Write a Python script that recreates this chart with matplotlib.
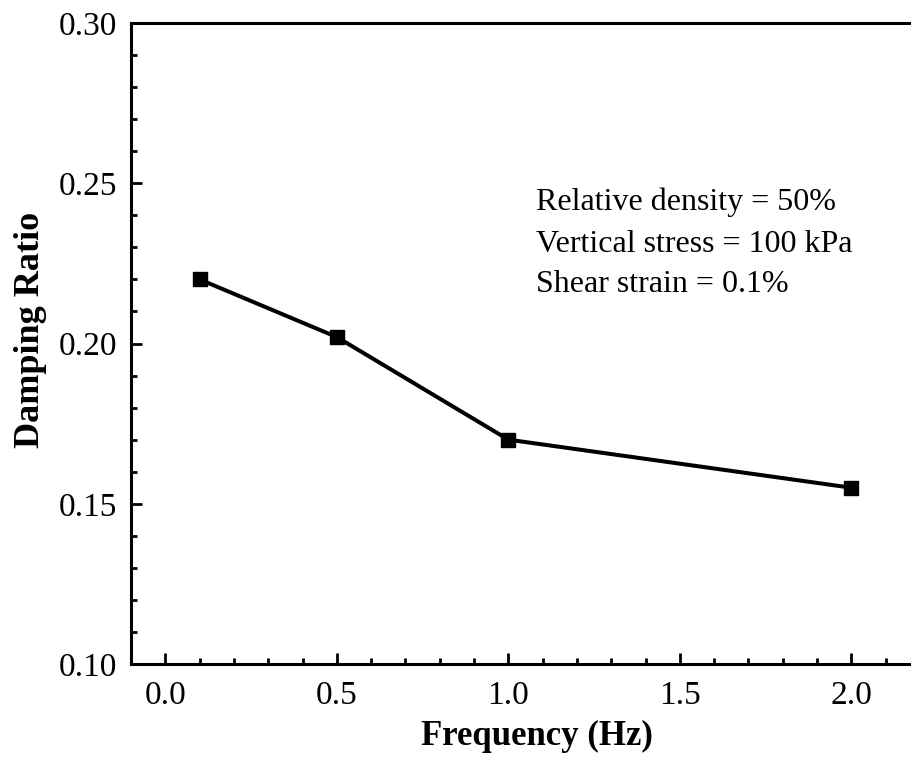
import matplotlib
matplotlib.use("Agg")
import matplotlib.pyplot as plt
from matplotlib.ticker import MultipleLocator

plt.rcParams['font.family'] = ['Liberation Serif', 'DejaVu Serif']

frequency = [0.1, 0.5, 1.0, 2.0]
damping_ratio = [0.220, 0.202, 0.170, 0.155]
x_ticks = [0.0, 0.5, 1.0, 1.5, 2.0]
y_ticks = [0.10, 0.15, 0.20, 0.25, 0.30]
notes = ["Relative density = 50%", "Vertical stress = 100 kPa", "Shear strain = 0.1%"]

W, H = 911, 760
fig = plt.figure(figsize=(W / 100, H / 100), dpi=100)
ax = fig.add_axes([131 / W, (H - 664) / H, 789 / W, 641 / H])

ax.plot(frequency, damping_ratio, color='black', lw=2.9, marker='s',
        markersize=10, markerfacecolor='black', markeredgecolor='black',
        clip_on=False, zorder=3)

ax.set_xlim(-0.1, 2.2)
ax.set_ylim(0.10, 0.30)
ax.set_xticks(x_ticks)
ax.set_xticklabels([f"{v:.1f}" for v in x_ticks])
ax.set_yticks(y_ticks)
ax.set_yticklabels([f"{v:.2f}" for v in y_ticks])
ax.xaxis.set_minor_locator(MultipleLocator(0.1))
ax.yaxis.set_minor_locator(MultipleLocator(0.01))

for s in ax.spines.values():
    s.set_linewidth(2.2)

ax.tick_params(axis='both', which='both', direction='in', width=2.0,
               top=False, right=False, labelsize=24)
ax.tick_params(axis='both', which='major', length=8)
ax.tick_params(axis='both', which='minor', length=4.5)
ax.tick_params(axis='x', which='major', pad=12)
ax.tick_params(axis='y', which='major', pad=10)

ax.set_xlabel("Frequency (Hz)", fontsize=25, fontweight='bold')
ax.set_ylabel("Damping Ratio", fontsize=26, fontweight='bold')
ax.xaxis.set_label_coords(0.515, -0.087)
ax.yaxis.set_label_coords(-0.106, 0.521)

note_baselines = [0.2417, 0.2286, 0.2161]
for t, yb in zip(notes, note_baselines):
    ax.text(1.082, yb, t, fontsize=23, ha='left', va='baseline')

fig.savefig("out.png", dpi=100)
